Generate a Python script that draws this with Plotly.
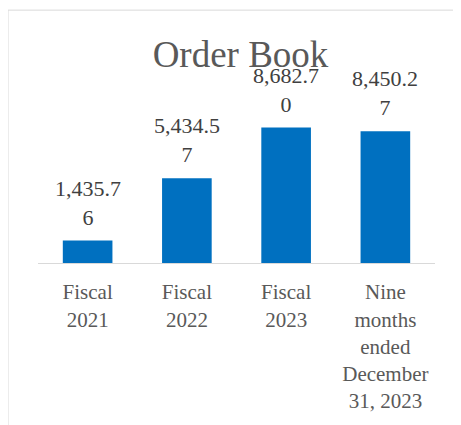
import plotly.graph_objects as go

categories = ["Fiscal 2021", "Fiscal 2022", "Fiscal 2023", "Nine months ended December 31, 2023"]
tick_labels = ["Fiscal<br>2021", "Fiscal<br>2022", "Fiscal<br>2023", "Nine<br>months<br>ended<br>December<br>31, 2023"]
order_book = [1435.76, 5434.57, 8682.70, 8450.27]


def wrap_label(v):
    s = f"{v:,.2f}"
    return s[:-1] + "<br>" + s[-1]


labels = [wrap_label(v) for v in order_book]

serif = "Liberation Serif, Times New Roman, serif"

# page body has an 8px margin: figure coords = reference coords - 8
OFF = 8
W, H = 461, 425
PL, PR = 38 - OFF, 435 - OFF          # plot x extent (figure px)
BASE = 262.7 - OFF                    # axis baseline (figure px)
YMAX = 10000
PX_PER = 64.4
TOP = BASE - YMAX / PX_PER

fig = go.Figure(
    go.Bar(
        x=categories,
        y=order_book,
        marker=dict(color="#0070C0", line=dict(width=0)),
        width=0.5,
        hoverinfo="skip",
        cliponaxis=False,
    )
)

annotations = [
    dict(
        x=c, y=v, xref="x", yref="y", text=t, showarrow=False,
        yanchor="bottom", xanchor="center", yshift=9,
        font=dict(family=serif, size=22, color="#404040"),
    )
    for c, v, t in zip(categories, order_book, labels)
]

bx0 = (0 - PL) / (PR - PL)
by0 = (H - (11 - OFF) - (H - BASE)) / (BASE - TOP)

fig.update_layout(
    width=W,
    height=H,
    margin=dict(l=PL, r=W - PR, t=TOP, b=H - BASE, autoexpand=False),
    paper_bgcolor="white",
    plot_bgcolor="white",
    showlegend=False,
    title=dict(
        text="Order Book",
        font=dict(family=serif, size=37, color="#595959"),
        x=(240.5 - OFF) / W,
        xanchor="center",
        xref="container",
        y=1 - (54 - OFF) / H,
        yanchor="middle",
        yref="container",
    ),
    xaxis=dict(
        tickmode="array",
        tickvals=categories,
        ticktext=tick_labels,
        tickfont=dict(family=serif, size=21, color="#595959"),
        showline=True,
        linecolor="#d9d9d9",
        linewidth=1,
        ticks="",
        showgrid=False,
        automargin=False,
        ticklabelstandoff=10,
    ),
    yaxis=dict(
        range=[0, YMAX],
        visible=False,
        showgrid=False,
        zeroline=False,
    ),
    annotations=annotations,
    shapes=[
        dict(
            type="line", xref="paper", yref="paper",
            x0=bx0, x1=bx0, y0=by0, y1=-3,
            line=dict(color="#d9d9d9", width=1),
        ),
        dict(
            type="line", xref="paper", yref="paper",
            x0=bx0, x1=3, y0=by0, y1=by0,
            line=dict(color="#d9d9d9", width=1),
        ),
    ],
)

fig.write_html("out.html")
